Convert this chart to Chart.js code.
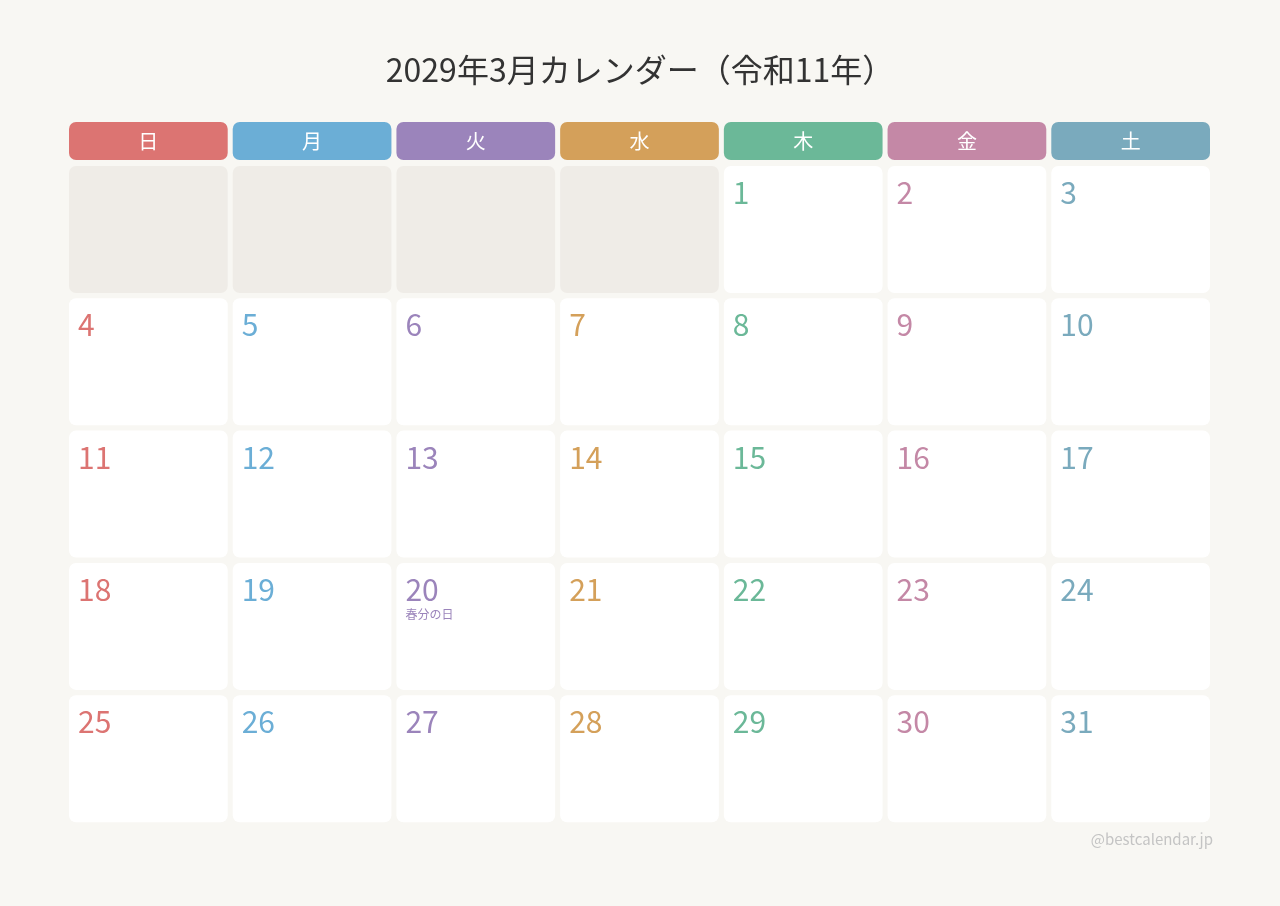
<!DOCTYPE html>
<html><head><meta charset="utf-8">
<script src="https://cdn.jsdelivr.net/npm/chart.js@4"></script>
<style>html,body{margin:0;background:#f8f7f3;}canvas{display:block}</style>
</head><body>
<canvas id="c" width="1280" height="906"></canvas>
<script>
const title = '2029年3月カレンダー（令和11年）';
const weekdays = ['日','月','火','水','木','金','土'];
const dayColors = ['#dc7472','#6baed6','#9b84bb','#d4a05a','#6bb898','#c488a6','#7aaabd'];
const days = [1,2,3,4,5,6,7,8,9,10,11,12,13,14,15,16,17,18,19,20,21,22,23,24,25,26,27,28,29,30,31];
const firstWeekday = 4;
const holidays = {20:'春分の日'};
const credit = '@bestcalendar.jp';
const FONT = '"Noto Sans CJK JP","Noto Sans",sans-serif';

const points = [];
days.forEach((d,i)=>{const k=i+firstWeekday;points.push({x:k%7+0.5,y:Math.floor(k/7),d});});
const HEAD=[2,40], ROW0=46, PITCH=132.3, RH=127;

function rr(ctx,x,y,w,h,r){ctx.beginPath();ctx.roundRect(x,y,w,h,r);}
const cal = {id:'cal',beforeDatasetsDraw(ch){
  const ctx=ch.ctx, xs=ch.scales.x, ys=ch.scales.y;
  ctx.save();
  ctx.fillStyle='#333';ctx.font='32px '+FONT;ctx.textAlign='center';ctx.textBaseline='middle';
  ctx.fillText(title,640,70);
  const colX=c=>[xs.getPixelForValue(c)+2,xs.getPixelForValue(c+1)-3];
  for(let c=0;c<7;c++){
    const [a,b]=colX(c);const t=ys.getPixelForValue(HEAD[0]),bt=ys.getPixelForValue(HEAD[1]);
    ctx.fillStyle=dayColors[c];rr(ctx,a,t,b-a,bt-t,7);ctx.fill();
    ctx.fillStyle='#fff';ctx.font='20px '+FONT;ctx.textAlign='center';ctx.textBaseline='middle';
    ctx.fillText(weekdays[c],(a+b)/2,(t+bt)/2);
  }
  for(let r=0;r<5;r++)for(let c=0;c<7;c++){
    const [a,b]=colX(c);const t=ys.getPixelForValue(ROW0+r*PITCH),bt=ys.getPixelForValue(ROW0+r*PITCH+RH);
    const k=r*7+c-firstWeekday; const blank=k<0||k>=days.length;
    ctx.fillStyle=blank?'#efece7':'#fff';rr(ctx,a,t,b-a,bt-t,7);ctx.fill();
    if(!blank){const d=days[k];
      ctx.fillStyle=dayColors[c];ctx.font='30px '+FONT;ctx.textAlign='left';ctx.textBaseline='alphabetic';
      ctx.fillText(String(d),a+9,t+38);
      if(holidays[d]){ctx.font='12px '+FONT;ctx.fillText(holidays[d],a+9,t+56);}
    }
  }
  ctx.fillStyle='#c4c4c4';ctx.font='15px '+FONT;ctx.textAlign='right';ctx.textBaseline='middle';
  ctx.fillText(credit,1213,839);
  ctx.restore();
}};
new Chart(document.getElementById('c'),{
  type:'scatter',
  data:{datasets:[{data:points.map(p=>({x:p.x,y:ROW0+p.y*PITCH+RH/2})),pointRadius:0}]},
  options:{responsive:false,animation:false,events:[],
    layout:{padding:{left:67,right:67,top:120,bottom:82}},
    plugins:{legend:{display:false},tooltip:{enabled:false}},
    scales:{x:{type:'linear',min:0,max:7,display:false},y:{type:'linear',min:0,max:704,reverse:true,display:false}}},
  plugins:[cal]
});
</script></body></html>
